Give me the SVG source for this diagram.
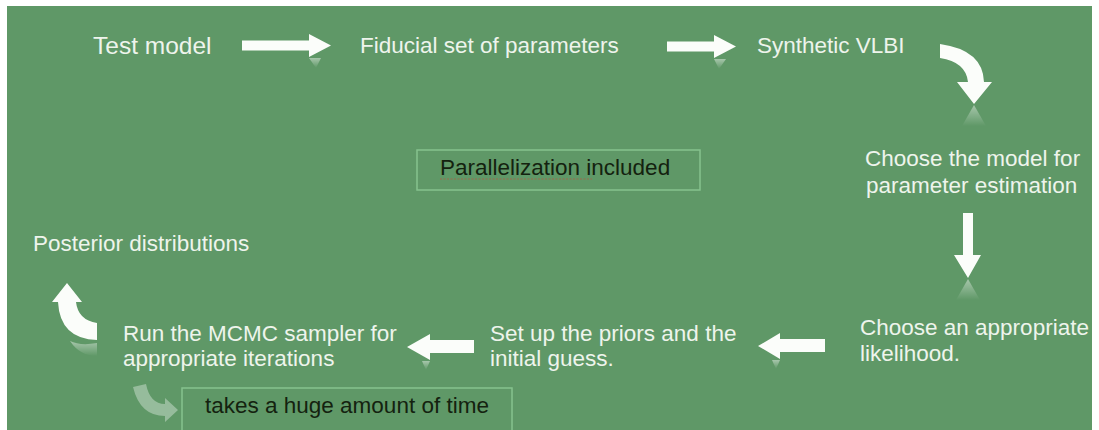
<svg xmlns="http://www.w3.org/2000/svg" width="1099" height="430" viewBox="0 0 1099 430">
<style>
.t{font-family:"Liberation Sans",Arial,sans-serif;font-size:22.5px;fill:#eef4ec}
.d{font-family:"Liberation Sans",Arial,sans-serif;font-size:22.5px;fill:#14220f}
.box{fill:none;stroke:#86c28e;stroke-width:1.5}
.arr{fill:#fbfdfa}
.ref{fill:url(#rg)}
</style>
<defs>
<linearGradient id="rg" x1="0" y1="0" x2="0" y2="1">
<stop offset="0" stop-color="#ffffff" stop-opacity="0.45"/>
<stop offset="1" stop-color="#ffffff" stop-opacity="0"/>
</linearGradient>
</defs>
<rect x="0" y="0" width="1099" height="430" fill="#ffffff"/>
<rect x="7" y="6" width="1085" height="424" fill="#5f9867"/>
<g id="n-test"><text class="t" x="93" y="54" style="font-size:24.5px">Test model</text></g>
<g id="n-fiducial"><text class="t" x="360" y="53">Fiducial set of parameters</text></g>
<g id="n-synth"><text class="t" x="757" y="53">Synthetic VLBI</text></g>
<g id="n-choose-model"><text class="t" x="865" y="166">Choose the model for</text><text class="t" x="866" y="193">parameter estimation</text></g>
<g id="n-likelihood"><text class="t" x="860" y="335">Choose an appropriate</text><text class="t" x="860" y="361">likelihood.</text></g>
<g id="n-priors"><text class="t" x="490" y="341">Set up the priors and the</text><text class="t" x="490" y="366">initial guess.</text></g>
<g id="n-mcmc"><text class="t" x="123" y="341">Run the MCMC sampler for</text><text class="t" x="123" y="366">appropriate iterations</text></g>
<g id="n-posterior"><text class="t" x="33" y="251">Posterior distributions</text></g>
<g id="n-parallel"><rect class="box" x="417" y="150" width="283" height="40"/><text class="d" x="440" y="175">Parallelization included</text><path d="M440,179 L592,179" stroke="#c84b3a" stroke-width="1" stroke-dasharray="2 1.5" opacity="0.6"/></g>
<g id="n-time"><rect class="box" x="182" y="388" width="330" height="44"/><text class="d" x="205" y="413">takes a huge amount of time</text></g>
<g id="connectors">
<polygon class="arr" points="242,40.5 309,40.5 309,34 331,45.5 309,57 309,50.5 242,50.5"/>
<polygon class="ref" points="309,58 321,58 316,68"/>
<polygon class="arr" points="667,41.5 714,41.5 714,35 736,46.5 714,58 714,51.5 667,51.5"/>
<polygon class="ref" points="714,59 726,59 719,69"/>
<path class="arr" d="M940,44 Q983,50 984,82 L992,82 L974,104 L957,82 L968,82 Q966,62 940,58 Z"/>
<polygon class="ref" points="974,105 962,126 986,126"/>
<polygon class="arr" points="963,213 973,213 973,255 981,255 968,278 954,255 963,255"/>
<polygon class="ref" points="968,279 956,300 980,300"/>
<polygon class="arr" points="825,339 780,339 780,333 758,346 780,359 780,352 825,352"/>
<polygon class="ref" points="780,360 772,360 776,369"/>
<polygon class="arr" points="474,340 430,340 430,334 407,347 430,360 430,353 474,353"/>
<polygon class="ref" points="430,361 422,361 426,370"/>
<path class="arr" d="M58,302 Q60,339 97,340 L97,323 Q78,320 76,302 L82,302 L67,283 L52,302 Z"/>
<path class="ref" d="M70,341 Q80,346 97,343 L97,356 Q80,356 70,341 Z"/>
<path d="M133,387 Q140,416 165,416 L165,422 L178,410 L165,398 L165,404 Q150,404 146,384 Z" fill="#ffffff" opacity="0.35"/>
</g>
</svg>
